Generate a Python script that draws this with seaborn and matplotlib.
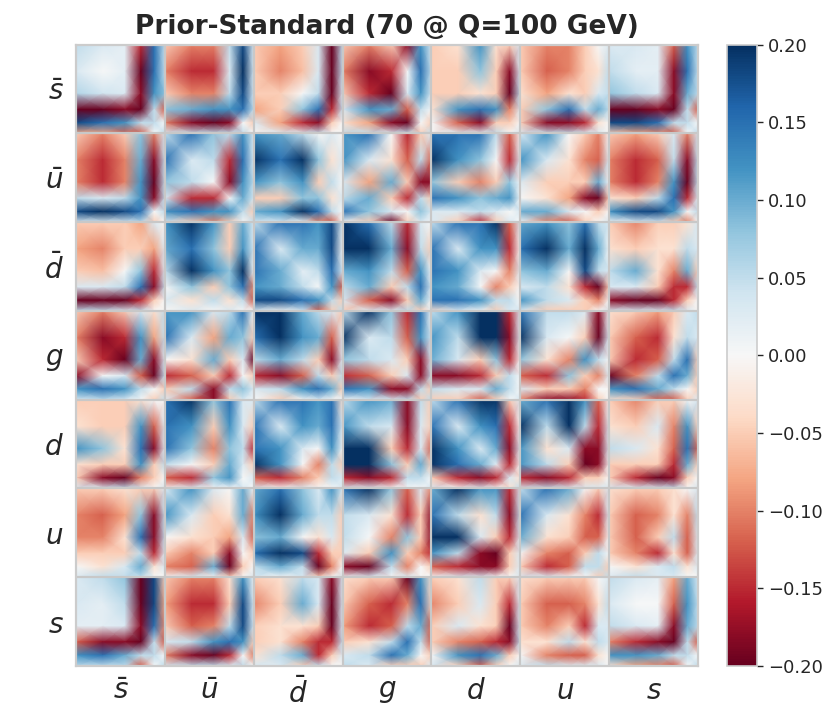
import numpy as np
import matplotlib
matplotlib.use("Agg")
import matplotlib.pyplot as plt
import seaborn as sns

# flavours along both axes (top->bottom, left->right)
flavours = [r"$\bar{s}$", r"$\bar{u}$", r"$\bar{d}$", "$g$", "$d$", "$u$", "$s$"]
# sample points inside each flavour block (fraction of the x-grid)
nodes = [0.0, 0.3, 0.55, 0.73, 0.88, 1.0]
cbar_ticks = [-0.20, -0.15, -0.10, -0.05, 0.00, 0.05, 0.10, 0.15, 0.20]

# correlation blocks, units of 0.01
# each row list starts at the diagonal block and goes right
row_sbar = [
    [[5, 3, 2, -15, 15, 5], [3, 0, 2, -20, 15, 5], [6, 4, 3, -18, 12, 8],
     [-20, -20, -18, -20, 5, -12], [18, 15, 12, 5, 5, 0], [-8, -8, -12, -12, 0, 5]],
    [[-5, -10, -10, 5, 18, 3], [-10, -15, -15, 3, 20, 3], [-5, -10, -10, 5, 18, 3],
     [8, 10, 12, 12, 15, 5], [-10, -18, -20, -18, 0, -5], [3, 5, 5, 5, 5, 0]],
    [[-5, -8, -5, 3, -20, 5], [-5, -10, -6, 3, -20, 5], [-5, -5, 0, 5, -20, 3],
     [-8, -5, 8, 15, -15, 5], [3, -8, -15, -18, -5, 0], [0, 3, 3, 5, 0, 0]],
    [[-5, -10, -5, -18, 12, 3], [-10, -18, -15, 0, 15, 5], [-5, -15, -20, 3, 12, 3],
     [3, 12, 10, -12, 5, 0], [-3, -8, -18, -20, 0, -5], [5, 5, 3, 5, -5, 5]],
    [[-5, -3, 12, -3, -5, 3], [-5, -5, 8, -5, -18, 3], [-5, -5, -3, -5, -20, 5],
     [-3, 12, 15, 12, -10, 3], [0, -12, -18, -5, -5, 0], [0, 3, 3, 5, 0, 3]],
    [[-5, -10, -10, -5, 0, 3], [-5, -12, -10, -5, -3, 5], [-3, -8, -3, -5, 3, 5],
     [-5, 8, 15, 5, 10, 5], [-5, -18, -18, -15, -3, 0], [3, 5, 5, 3, 3, 0]],
    [[3, 3, 2, -12, 12, 5], [5, 2, 2, -18, 15, 5], [8, 5, 3, -18, 10, 5],
     [-20, -20, -18, -20, 5, -12], [18, 18, 15, 5, 5, 0], [-5, -8, -10, -12, 0, 5]],
]
row_ubar = [
    [[5, 15, 8, 5, 12, 3], [15, 3, 5, -15, 15, 3], [8, 5, 0, -18, 12, 5],
     [3, -15, -15, 0, 10, 3], [12, 15, 12, 12, 5, -5], [3, -5, -10, -5, 0, 5]],
    [[12, 10, 5, 0, 3, 0], [20, 15, 20, 8, -3, 3], [12, 8, 12, -5, 5, 0],
     [-5, -5, 8, 8, -3, 3], [10, 12, 20, 15, 5, 0], [3, 3, 0, -10, -12, 0]],
    [[12, 15, 0, -15, -5, 3], [12, 3, -3, -12, 5, -12], [3, -8, 10, -5, -18, -18],
     [5, 10, -5, -15, 5, -5], [15, 8, 3, 0, 8, 3], [0, -5, -20, -5, 3, 0]],
    [[15, 15, 15, 5, -12, 0], [20, 12, 8, 0, -15, 3], [8, -5, -10, -5, 8, 0],
     [15, 12, 8, 10, 12, 0], [3, 3, 5, 3, 0, 3], [3, -5, -15, -5, 3, 0]],
    [[3, 12, 0, -5, -10, 0], [12, 3, -3, -10, -12, 3], [3, -5, -5, -5, 10, 0],
     [0, -3, -8, -18, -20, -5], [10, 10, 3, 0, -5, 0], [0, -10, -12, -5, 0, 3]],
    [[-5, -8, -5, 3, -10, 3], [-10, -15, -12, 5, -18, 5], [-10, -15, -10, 12, -20, 5],
     [-3, -5, 5, 15, -15, 3], [12, 18, 18, 12, 0, 5], [0, 3, 3, -5, -10, 0]],
]
row_dbar = [
    [[5, 15, 15, 12, 18, 3], [15, 3, 10, 10, 18, 0], [15, 10, 2, 5, 15, 3],
     [12, 10, 5, 0, 12, -12], [18, 18, 15, 12, 5, -5], [3, 0, 3, -12, -5, 5]],
    [[20, 15, 5, -15, 3, 0], [20, 20, 10, -18, 5, -5], [10, 12, 5, -12, 12, 0],
     [5, 10, -5, 5, 15, 3], [3, -12, -18, -5, 10, 0], [-5, 3, 3, 5, -5, 0]],
    [[5, 15, 15, 20, -12, 3], [15, 3, 12, 12, -15, 0], [15, 12, 3, 0, -10, 3],
     [12, 10, 0, -10, -5, 0], [15, 15, 12, 5, 5, 0], [-3, 3, 0, -5, 3, 3]],
    [[10, 12, 8, 15, 5, 3], [15, 20, 10, 20, 10, 0], [8, 10, 0, 18, 5, 3],
     [3, 5, -3, -15, -20, -5], [12, 5, 3, -5, -10, 0], [3, -5, -5, -5, 0, 3]],
    [[-5, -10, -5, -5, -3, 3], [-3, -5, -3, -3, 5, 3], [5, 10, -3, -10, 10, -5],
     [3, 3, -5, -15, -15, 5], [-18, -20, -20, -15, -5, 0], [3, 3, 3, 5, 3, 0]],
]
row_g = [
    [[5, 20, 8, -15, 15, 0], [20, 3, 5, -12, 12, 3], [8, 5, 3, -5, -18, 3],
     [-15, -12, -5, 3, -18, 5], [15, 12, -18, -18, 5, -5], [0, 3, 3, 5, -5, 5]],
    [[5, 12, 20, 20, -15, 3], [12, 5, 20, 20, -18, 3], [10, 3, -5, 8, -15, 0],
     [-18, -18, -15, -5, 5, 0], [5, 3, 3, 10, 5, 0], [-5, -5, -12, -5, 0, 3]],
    [[15, 5, 5, 3, -18, 0], [20, 3, 0, -5, -20, 3], [8, -3, -10, 12, 5, 0],
     [-12, -15, 8, -5, -10, 3], [3, -5, -5, -10, 0, 0], [-10, -18, -18, -15, -5, 0]],
    [[-3, -5, -8, -5, 3, 5], [-5, -12, -15, -3, 5, 3], [-5, -15, -12, 5, 15, -5],
     [-20, -10, 5, 15, 10, -5], [12, 15, 10, 5, 0, -5], [-3, -5, -12, -12, -5, 3]],
]
row_d = [
    [[5, 15, 20, 20, -5, 3], [15, 3, 12, 15, -15, 0], [20, 12, 3, 10, -18, 3],
     [20, 15, 10, 2, -15, 0], [-5, -15, -18, -15, 3, -3], [3, 0, 3, 0, -3, 5]],
    [[10, 15, 20, 12, -12, 0], [20, 5, 20, 5, -15, 3], [12, -3, 3, -18, -18, 3],
     [12, 5, -5, -20, -18, 0], [-15, -18, -15, -5, -5, 0], [3, 5, 3, 3, 3, 3]],
    [[-5, -10, -5, -5, 0, 3], [-3, -5, 3, -10, 12, -5], [5, 3, -3, -12, 15, -12],
     [-5, -5, -5, -15, 10, -5], [-5, -15, -20, -18, -5, 0], [3, 3, 3, 5, 0, 3]],
]
row_u = [
    [[5, 15, 10, 0, -5, 3], [15, 3, -3, -10, -15, 3], [10, -3, -5, -12, -12, 0],
     [0, -10, -12, -5, 5, 0], [-5, -15, -12, 5, 5, -5], [3, 3, 0, 0, -5, 5]],
    [[-3, -5, -5, -3, 0, 3], [-5, -12, -10, -3, -10, 5], [-5, -12, -5, 5, -12, 3],
     [-5, -10, -15, -3, -12, 3], [0, -3, 3, 5, -3, 3], [3, 5, 3, 3, 0, 0]],
]
row_s = [
    [[5, 3, 2, -8, 10, 3], [3, 0, 0, -12, 12, 5], [5, 3, 2, -18, 10, 5],
     [-10, -15, -18, -20, 5, -12], [12, 12, 10, 5, 5, 0], [-3, -8, -10, -12, 0, 5]],
]

rows = [row_sbar, row_ubar, row_dbar, row_g, row_d, row_u, row_s]
n = len(flavours)
m = len(nodes)

corr = np.zeros((n * m, n * m))
for i, row in enumerate(rows):
    for k, blk in enumerate(row):
        j = i + k
        b = np.array(blk, dtype=float) / 100.0
        corr[i * m:(i + 1) * m, j * m:(j + 1) * m] = b
        if j != i:
            corr[j * m:(j + 1) * m, i * m:(i + 1) * m] = b.T

pos = np.concatenate([k + np.array(nodes) for k in range(n)])

sns.set_theme(style="whitegrid")
plt.rcParams['font.family'] = ['DejaVu Sans']

fig = plt.figure(figsize=(8.31, 7.15), dpi=100)
ax = fig.add_axes([0.0915, 0.0685, 0.7485, 0.869])
cax = fig.add_axes([0.875, 0.0685, 0.036, 0.869])

mesh = ax.pcolormesh(pos, pos, corr, shading='gouraud', cmap='RdBu',
                     vmin=-0.2, vmax=0.2, rasterized=True)
ax.set_xlim(0, n)
ax.set_ylim(n, 0)
ax.grid(False)
for k in range(1, n):
    ax.axvline(k, color='#c8c8c8', lw=1.6)
    ax.axhline(k, color='#c8c8c8', lw=1.6)
for sp in ax.spines.values():
    sp.set_color('#cccccc')
    sp.set_linewidth(1.6)

ax.set_xticks(np.arange(n) + 0.5)
ax.set_yticks(np.arange(n) + 0.5)
ax.set_xticklabels(flavours, fontsize=20)
ax.set_yticklabels(flavours, fontsize=20)
ax.tick_params(axis='x', pad=8, length=0)
ax.tick_params(axis='y', pad=9, length=0)
ax.set_title("Prior-Standard (70 @ Q=100 GeV)", fontsize=19,
             fontweight='bold', pad=8)

cb = fig.colorbar(mesh, cax=cax, ticks=cbar_ticks,
                  format=lambda v, p: f"{v:.2f}".replace("-", "\u2212"))
cb.outline.set_edgecolor('#cccccc')
cb.outline.set_linewidth(1.2)
cax.tick_params(right=True, length=4, width=1, color='.15',
                labelsize=13, pad=4)
cax.grid(False)

fig.savefig("out.png", dpi=100)
